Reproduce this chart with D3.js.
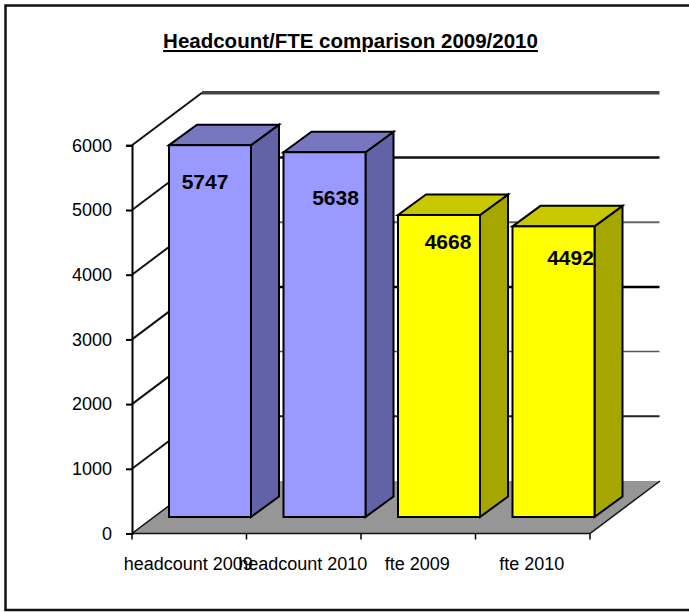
<!DOCTYPE html>
<html>
<head>
<meta charset="utf-8">
<title>Headcount/FTE comparison 2009/2010</title>
<script src="https://cdn.jsdelivr.net/npm/d3@7/dist/d3.min.js"></script>
<style>
  html, body { margin: 0; padding: 0; background: #fff; }
  svg { display: block; }
  text { font-family: "Liberation Sans", Arial, sans-serif; fill: #000; }
</style>
</head>
<body>
<svg id="chart" width="689" height="612"></svg>
<script>
// Chart values
const categories = ["headcount 2009", "headcount 2010", "fte 2009", "fte 2010"];
const values = [5747, 5638, 4668, 4492];
const yTicks = [0, 1000, 2000, 3000, 4000, 5000, 6000];
const chartTitle = "Headcount/FTE comparison 2009/2010";

// Colours per bar: front, top and side faces
const frontColors = ["#9999ff", "#9999ff", "#ffff00", "#ffff00"];
const topColors = ["#7777c0", "#7777c0", "#c8c800", "#c8c800"];
const sideColors = ["#6262a6", "#6262a6", "#a6a600", "#a6a600"];

// Value label offsets from the bar's top-left front corner
const labelDx = [36, 52, 50, 58];
const labelDy = [44, 53, 34, 39];

// Back wall rule weights and colours, from 0 up to 6000
const ruleWidths = [0, 2, 1.5, 2.5, 2, 2.5, 3.5];
const ruleColors = ["#000", "#222", "#555", "#000", "#666", "#111", "#444"];

// Oblique projection of the box
const depthX = 70, depthY = -52.5;
const barDepthX = 28, barDepthY = -20.5;
const floorGap = 16.5;     // drop from the axis baseline to the bars' front base
const barPad = 37;         // bar inset inside its category band
const barWidth = 82;

const svg = d3.select("#chart");

const x = d3.scaleBand().domain(categories).range([132, 590]);
const y = d3.scaleLinear().domain([0, 6000]).range([533.5, 145.3]);
const heightOf = v => y(0) - y(v);

// Outer frame, open on the right where the page ends
svg.append("path")
  .attr("d", "M689,5.5H5.5V610H689")
  .attr("fill", "none").attr("stroke", "#111").attr("stroke-width", 2.5);

// Title
svg.append("text")
  .attr("x", 350.5).attr("y", 48)
  .attr("text-anchor", "middle")
  .attr("font-size", 20.5).attr("font-weight", "bold")
  .attr("text-decoration", "underline")
  .text(chartTitle);

const plot = svg.append("g");

// Rules on the back wall
plot.append("g").selectAll("line")
  .data(yTicks.filter(d => d > 0))
  .join("line")
  .attr("x1", x.range()[0] + depthX)
  .attr("x2", x.range()[1] + depthX - 0.5)
  .attr("y1", d => y(d) + depthY)
  .attr("y2", d => y(d) + depthY)
  .attr("stroke", d => ruleColors[yTicks.indexOf(d)])
  .attr("stroke-width", d => ruleWidths[yTicks.indexOf(d)]);

// Rules on the left side wall
plot.append("g").selectAll("line")
  .data(yTicks.filter(d => d > 0))
  .join("line")
  .attr("x1", x.range()[0])
  .attr("x2", x.range()[0] + depthX)
  .attr("y1", d => y(d))
  .attr("y2", d => y(d) + depthY)
  .attr("stroke", "#111").attr("stroke-width", 2);

// Floor
const [x0, x1] = x.range();
plot.append("path")
  .attr("d", d3.line()([
    [x0, y(0)], [x1, y(0)],
    [x1 + depthX, y(0) + depthY], [x0 + depthX, y(0) + depthY]
  ]) + "Z")
  .attr("fill", "#969696");
plot.append("path")
  .attr("d", d3.line()([[x0 + depthX, y(0) + depthY], [x0, y(0)], [x1, y(0)], [x1 + depthX, y(0) + depthY]]))
  .attr("fill", "none").attr("stroke", "#111").attr("stroke-width", 1.5);

// Value axis
const yAxis = plot.append("g")
  .attr("transform", `translate(${x0},0)`)
  .call(d3.axisLeft(y).tickValues(yTicks).tickFormat(d3.format("d")).tickSize(6).tickPadding(14));
yAxis.selectAll("text").attr("font-size", 18).style("font-family", null);
yAxis.selectAll("line, path").attr("stroke", "#000").attr("stroke-width", 2);

// Category axis: ticks sit on the band edges, labels on the band centres
const xEdges = categories.map(c => x(c)).concat(x1);
plot.append("g").selectAll("line")
  .data(xEdges)
  .join("line")
  .attr("x1", d => d).attr("x2", d => d)
  .attr("y1", y(0)).attr("y2", y(0) + 6)
  .attr("stroke", "#000").attr("stroke-width", 1.5);
plot.append("g").selectAll("text")
  .data(categories)
  .join("text")
  .attr("x", d => x(d) + x.bandwidth() / 2 - 1)
  .attr("y", 570)
  .attr("text-anchor", "middle")
  .attr("font-size", 18)
  .text(d => d);

// Bars: side, top and front faces
const bars = plot.append("g").selectAll("g")
  .data(values)
  .join("g")
  .attr("transform", (d, i) => `translate(${x(categories[i]) + barPad},${y(0) - floorGap})`);

const face = {stroke: "#000", width: 2};
bars.append("path")
  .attr("d", d => d3.line()([
    [barWidth, 0], [barWidth + barDepthX, barDepthY],
    [barWidth + barDepthX, barDepthY - heightOf(d)], [barWidth, -heightOf(d)]
  ]) + "Z")
  .attr("fill", (d, i) => sideColors[i])
  .attr("stroke", face.stroke).attr("stroke-width", face.width);
bars.append("path")
  .attr("d", d => d3.line()([
    [0, -heightOf(d)], [barDepthX, barDepthY - heightOf(d)],
    [barWidth + barDepthX, barDepthY - heightOf(d)], [barWidth, -heightOf(d)]
  ]) + "Z")
  .attr("fill", (d, i) => topColors[i])
  .attr("stroke", face.stroke).attr("stroke-width", face.width);
bars.append("rect")
  .attr("x", 0)
  .attr("y", d => -heightOf(d))
  .attr("width", barWidth)
  .attr("height", d => heightOf(d))
  .attr("fill", (d, i) => frontColors[i])
  .attr("stroke", face.stroke).attr("stroke-width", face.width);

// Value labels
bars.append("text")
  .attr("x", (d, i) => labelDx[i])
  .attr("y", (d, i) => -heightOf(d) + labelDy[i])
  .attr("text-anchor", "middle")
  .attr("font-size", 21).attr("font-weight", "bold")
  .text(d => d);
</script>
</body>
</html>
